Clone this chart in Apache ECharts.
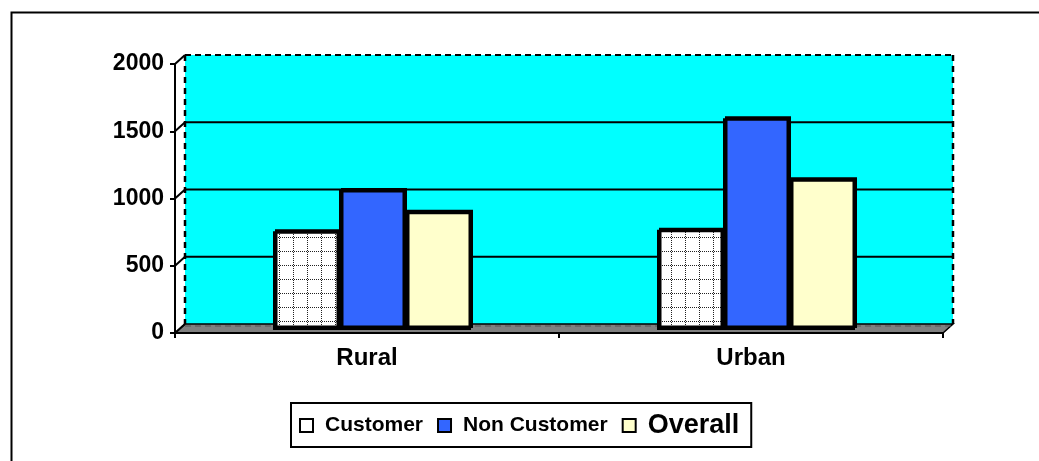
<!DOCTYPE html>
<html>
<head>
<meta charset="utf-8">
<script src="https://cdn.jsdelivr.net/npm/echarts@6/dist/echarts.min.js"></script>
<style>
  html, body { margin: 0; padding: 0; background: #fff; }
  #chart { width: 1039px; height: 461px; }
</style>
</head>
<body>
<div id="chart"></div>
<script>
// Categories, series and axis scale
const categories = ['Rural', 'Urban'];
const seriesNames = ['Customer', 'Non Customer', 'Overall'];
const customerValues = [735, 745];
const nonCustomerValues = [1040, 1575];
const overallValues = [880, 1120];
const yMin = 0;
const yMax = 2000;
const yStep = 500;

// Depth offset of the back wall relative to the front axes (pseudo-3D look)
const DEPTH_X = 10;
const DEPTH_Y = -9;
const FONT = '"Liberation Sans", Arial, sans-serif';

// White fill with a dotted grid, used for the "Customer" columns
function dottedGridPattern() {
  const c = document.createElement('canvas');
  c.width = 14; c.height = 14;
  const g = c.getContext('2d');
  g.fillStyle = '#fff';
  g.fillRect(0, 0, 14, 14);
  g.fillStyle = '#222';
  for (let i = 0; i < 14; i += 2) {
    g.fillRect(i, 13, 1, 1);
    g.fillRect(13, i, 1, 1);
  }
  return c;
}

const yTickValues = [];
for (let v = yMin; v <= yMax; v += yStep) yTickValues.push(v);

// Back wall, floor and the slanted tick connectors, drawn from the front grid's scales
function renderFrame(params, api) {
  const cs = params.coordSys;
  const x = cs.x, y = cs.y, w = cs.width, h = cs.height;
  const dx = DEPTH_X, dy = DEPTH_Y;
  const children = [];
  children.push({ type: 'rect', shape: { x: x + dx, y: y + dy, width: w, height: h },
    style: { fill: '#00FFFF' } });
  yTickValues.forEach(function (v) {
    if (v > yMin && v < yMax) {
      const yy = api.coord([0, v])[1] + dy;
      children.push({ type: 'line', shape: { x1: x + dx, y1: yy, x2: x + dx + w, y2: yy },
        style: { stroke: '#000', lineWidth: 2 } });
    }
  });
  const yTop = api.coord([0, yMax])[1] + dy;
  const yBot = api.coord([0, yMin])[1] + dy;
  children.push({ type: 'line', shape: { x1: x + dx, y1: yTop, x2: x + dx + w, y2: yTop },
    style: { stroke: '#000', lineWidth: 2, lineDash: [6, 4] } });
  children.push({ type: 'line', shape: { x1: x + dx, y1: yTop, x2: x + dx, y2: yBot },
    style: { stroke: '#000', lineWidth: 2.5, lineDash: [6, 5] } });
  children.push({ type: 'line', shape: { x1: x + dx + w, y1: yTop, x2: x + dx + w, y2: yBot },
    style: { stroke: '#000', lineWidth: 2.5, lineDash: [6, 5] } });
  // floor
  children.push({ type: 'polygon', shape: { points: [
      [x, y + h], [x + w, y + h], [x + w + dx, y + h + dy], [x + dx, y + h + dy]] },
    style: { fill: '#808080', stroke: '#000', lineWidth: 1.5 } });
  children.push({ type: 'line', shape: { x1: x + dx, y1: yBot + 2, x2: x + dx + w, y2: yBot + 2 },
    style: { stroke: '#555', lineWidth: 1, lineDash: [6, 4] } });
  // slanted connectors from front ticks to back wall
  yTickValues.forEach(function (v) {
    const yy = api.coord([0, v])[1];
    children.push({ type: 'line', shape: { x1: x, y1: yy, x2: x + dx, y2: yy + dy },
      style: { stroke: '#000', lineWidth: 2 } });
  });
  return { type: 'group', children: children };
}

const barBase = {
  type: 'bar',
  xAxisIndex: 1,
  yAxisIndex: 1,
  barWidth: 66,
  barGap: '0%',
  z: 3
};
function barStyle(fill) {
  return { color: fill, borderColor: '#000', borderWidth: 2.5,
    shadowColor: '#000', shadowBlur: 0, shadowOffsetX: 2, shadowOffsetY: -2 };
}

const chart = echarts.init(document.getElementById('chart'), null, { renderer: 'canvas' });
chart.setOption({
  animation: false,
  backgroundColor: '#fff',
  graphic: [{
    type: 'rect', left: 9, top: 10, silent: true,
    shape: { width: 1100, height: 500 },
    style: { fill: 'none', stroke: '#000', lineWidth: 2 }
  }],
  legend: {
    data: seriesNames,
    left: 291,
    top: 403,
    orient: 'horizontal',
    borderColor: '#000',
    borderWidth: 2,
    padding: [9, 12, 8, 8],
    itemWidth: 13,
    itemHeight: 13,
    itemGap: 14,
    icon: 'rect',
    itemStyle: { borderColor: '#000', borderWidth: 2, shadowOffsetX: 0, shadowOffsetY: 0, shadowColor: 'transparent' },
    formatter: function (name) {
      return name === 'Overall' ? '{big|' + name + '}' : '{n|' + name + '}';
    },
    textStyle: {
      color: '#000',
      fontFamily: FONT,
      fontWeight: 'bold',
      fontSize: 21,
      rich: {
        n: { fontFamily: FONT, fontWeight: 'bold', fontSize: 21, color: '#000', padding: [0, 0, 0, 7] },
        big: { fontFamily: FONT, fontWeight: 'bold', fontSize: 27, color: '#000', padding: [0, 0, 0, 7] }
      }
    }
  },
  grid: [
    { left: 175, top: 64, width: 768, height: 269 },
    { left: 180, top: 61, width: 768, height: 269 }
  ],
  xAxis: [
    {
      gridIndex: 0, type: 'category', data: categories, boundaryGap: true, z: 5,
      axisLine: { show: true, lineStyle: { color: '#000', width: 2 } },
      axisTick: { show: true, length: 5, lineStyle: { color: '#000', width: 2 } },
      axisLabel: { color: '#000', fontFamily: FONT, fontWeight: 'bold', fontSize: 24, margin: 13 },
      splitLine: { show: false }
    },
    { gridIndex: 1, type: 'category', data: categories, show: false }
  ],
  yAxis: [
    {
      gridIndex: 0, type: 'value', min: yMin, max: yMax, interval: yStep, z: 5,
      axisLine: { show: true, lineStyle: { color: '#000', width: 2 } },
      axisTick: { show: true, length: 5, lineStyle: { color: '#000', width: 2 } },
      axisLabel: { color: '#000', fontFamily: FONT, fontWeight: 'bold', fontSize: 23, margin: 11,
        formatter: function (v) { return String(v); } },
      splitLine: { show: false }
    },
    { gridIndex: 1, type: 'value', min: yMin, max: yMax, interval: yStep, show: false, splitLine: { show: false } }
  ],
  series: [
    {
      type: 'custom', name: 'frame', xAxisIndex: 0, yAxisIndex: 0, silent: true, z: 1,
      data: [[0, 0]], renderItem: renderFrame
    },
    Object.assign({}, barBase, { name: seriesNames[0], data: customerValues,
      itemStyle: barStyle({ image: dottedGridPattern(), repeat: 'repeat' }) }),
    Object.assign({}, barBase, { name: seriesNames[1], data: nonCustomerValues,
      itemStyle: barStyle('#3366FF') }),
    Object.assign({}, barBase, { name: seriesNames[2], data: overallValues,
      itemStyle: barStyle('#FFFFCC') })
  ]
});
</script>
</body>
</html>
